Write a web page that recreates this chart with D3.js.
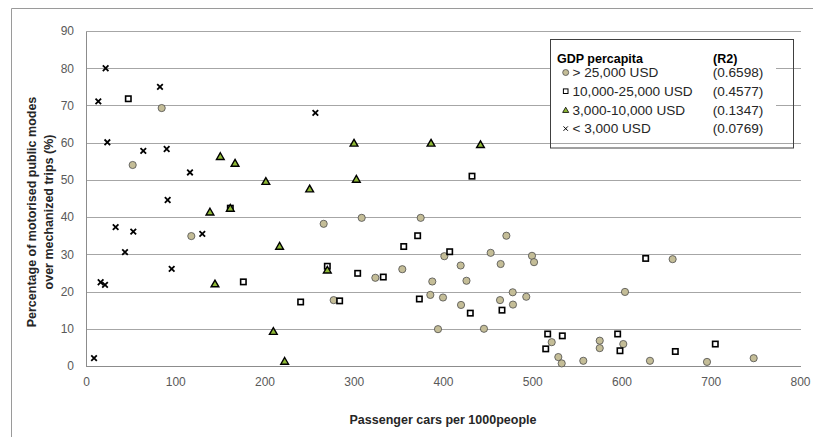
<!DOCTYPE html>
<html>
<head>
<meta charset="utf-8">
<script src="https://cdn.jsdelivr.net/npm/d3@7/dist/d3.min.js"></script>
<style>
  html, body { margin: 0; padding: 0; background: #fff; }
  svg { display: block; font-family: "Liberation Sans", Arial, sans-serif; }
</style>
</head>
<body>
<svg id="chart" width="813" height="441"></svg>
<script>
// GDP per capita groups: [passenger cars per 1000 people, % public modes]
const richPoints = [
  [84.8,69.3],[52.3,54.0],[118,34.9],[266.3,38.2],[308.9,39.8],[375,39.8],
  [401.5,29.5],[419.8,27.0],[354.4,26.0],[324.2,23.7],[277.5,17.7],[388,22.7],
  [426.3,22.9],[385.8,19.1],[400,18.4],[420.2,16.4],[394.4,9.9],[453.4,30.4],
  [471,35],[499.7,29.6],[502,27.9],[464.6,27.4],[478.1,19.8],[603.9,19.9],
  [493.3,18.6],[463.9,17.7],[478.4,16.5],[445.9,10.0],[521.8,6.4],[529.2,2.4],
  [533,0.7],[557.2,1.4],[575.6,6.8],[575.6,4.8],[602,5.9],[631.9,1.4],
  [695.8,1.1],[748.1,2.1],[657.3,28.7]
];
const upperMiddlePoints = [
  [47.4,71.8],[161.7,42.4],[176.3,22.6],[432.5,51.0],[371.6,35.0],[356,32.1],
  [407.5,30.7],[270.4,26.8],[304.4,24.9],[333.1,23.9],[240.5,17.2],[284.2,17.5],
  [373.5,18.0],[430.6,14.2],[466.1,15.0],[627.1,28.9],[517.3,8.6],[533.7,8.1],
  [515.1,4.6],[595.7,8.6],[598.3,4.1],[660.3,3.9],[705.1,5.9]
];
const lowerMiddlePoints = [
  [150.5,56.3],[167,54.5],[201.5,49.6],[138.9,41.4],[161.7,42.4],[216.9,32.2],
  [144.5,22.1],[209.9,9.3],[300.3,59.9],[386.6,59.9],[442,59.5],[250.6,47.6],
  [302.9,50.2],[270.4,25.8],[222.6,1.3]
];
const lowPoints = [
  [22,80.0],[82.9,75.0],[13.8,71.1],[23.9,60.1],[64.2,57.8],[90.4,58.3],
  [116.5,52.0],[91.5,44.6],[33.2,37.3],[53,36.1],[130.3,35.5],[43.7,30.6],
  [96,26.1],[16.4,22.5],[21.3,21.8],[9,2.1],[257,68]
];

const legendLabels = ["> 25,000 USD", "10,000-25,000 USD", "3,000-10,000 USD", "< 3,000 USD"];
const r2Values = ["(0.6598)", "(0.4577)", "(0.1347)", "(0.0769)"];
const xTicks = [0, 100, 200, 300, 400, 500, 600, 700, 800];
const yTicks = [0, 10, 20, 30, 40, 50, 60, 70, 80, 90];

const svg = d3.select("#chart");

const x = d3.scaleLinear().domain([0, 800]).range([86, 800]);
const y = d3.scaleLinear().domain([0, 90]).range([366, 31]);
const plotRight = 801;

// outer chart frame (left and top edges)
svg.append("line").attr("x1", 11.5).attr("x2", 11.5).attr("y1", 8.5).attr("y2", 437)
  .attr("stroke", "#9a9a9a");
svg.append("line").attr("x1", 11.5).attr("x2", 813).attr("y1", 8.5).attr("y2", 8.5)
  .attr("stroke", "#9a9a9a");

// horizontal gridlines
const grid = svg.append("g").attr("transform", "translate(86,0)")
  .call(d3.axisLeft(y).tickValues(yTicks.filter(v => v > 0)).tickSize(-(plotRight - 86)).tickFormat(""));
grid.select(".domain").remove();
grid.selectAll(".tick line").attr("stroke", "#a6a6a6").attr("shape-rendering", "crispEdges");

// y axis
const yAxis = svg.append("g").attr("transform", "translate(86,0)")
  .call(d3.axisLeft(y).tickValues(yTicks).tickSize(0).tickPadding(12));
yAxis.select(".domain").attr("stroke", "#8c8c8c").attr("shape-rendering", "crispEdges");
yAxis.selectAll(".tick text").attr("font-size", 12).attr("fill", "#595959")
  .attr("font-family", "Liberation Sans, Arial, sans-serif");

// x axis
const xAxis = svg.append("g").attr("transform", "translate(0,366)")
  .call(d3.axisBottom(x).tickValues(xTicks).tickSize(0).tickPadding(11));
xAxis.select(".domain").attr("stroke", "#8c8c8c").attr("shape-rendering", "crispEdges")
  .attr("d", `M86,0H${plotRight}`);
xAxis.selectAll(".tick text").attr("font-size", 12).attr("fill", "#595959")
  .attr("font-family", "Liberation Sans, Arial, sans-serif");

// axis titles
svg.append("text").attr("x", 443).attr("y", 424).attr("text-anchor", "middle")
  .attr("font-size", 12.5).attr("font-weight", "bold").attr("fill", "#262626")
  .text("Passenger cars per 1000people");
const yTitle = svg.append("text").attr("transform", "translate(0,212) rotate(-90)")
  .attr("text-anchor", "middle").attr("font-size", 12.5).attr("font-weight", "bold")
  .attr("fill", "#262626");
yTitle.append("tspan").attr("x", 0).attr("y", 36).text("Percentage of motorised public modes");
yTitle.append("tspan").attr("x", 0).attr("y", 53).text("over mechanized trips (%)");

// marker painters
const triPath = d3.symbol().type(d3.symbolTriangle);
function drawCircle(g, cx, cy, r) {
  g.append("circle").attr("cx", cx).attr("cy", cy).attr("r", r)
    .attr("fill", "#c4bd97").attr("stroke", "#4d4d4d").attr("stroke-width", 0.8);
}
function drawSquare(g, cx, cy, s, sw) {
  g.append("rect").attr("x", cx - s / 2).attr("y", cy - s / 2).attr("width", s).attr("height", s)
    .attr("fill", "#fff").attr("stroke", "#000").attr("stroke-width", sw);
}
function drawTriangle(g, cx, cy, size, sw) {
  g.append("path").attr("d", triPath.size(size)()).attr("transform", `translate(${cx},${cy + 0.8})`)
    .attr("fill", "#8fb936").attr("stroke", "#000").attr("stroke-width", sw);
}
function drawCross(g, cx, cy, h, sw) {
  g.append("path").attr("d", `M${cx - h},${cy - h}L${cx + h},${cy + h}M${cx - h},${cy + h}L${cx + h},${cy - h}`)
    .attr("stroke", "#000").attr("stroke-width", sw).attr("fill", "none");
}

const marks = svg.append("g");
richPoints.forEach(d => drawCircle(marks, x(d[0]), y(d[1]), 3.6));
upperMiddlePoints.forEach(d => drawSquare(marks, x(d[0]), y(d[1]), 5.4, 1.6));
lowerMiddlePoints.forEach(d => drawTriangle(marks, x(d[0]), y(d[1]), 26, 1.4));
lowPoints.forEach(d => drawCross(marks, x(d[0]), y(d[1]), 2.8, 1.8));

// legend
const lg = svg.append("g");
lg.append("rect").attr("x", 551).attr("y", 41).attr("width", 225).attr("height", 97).attr("fill", "#fff");
lg.append("rect").attr("x", 550.5).attr("y", 39.5).attr("width", 243).attr("height", 108.5)
  .attr("fill", "none").attr("stroke", "#404040").attr("stroke-width", 1);
lg.append("text").attr("x", 557).attr("y", 63).attr("font-size", 12.5).attr("font-weight", "bold")
  .attr("fill", "#000").text("GDP percapita");
lg.append("text").attr("x", 713).attr("y", 63).attr("font-size", 12.5).attr("font-weight", "bold")
  .attr("fill", "#000").text("(R2)");
const rowPainters = [
  (cy) => drawCircle(lg, 565.7, cy, 3),
  (cy) => drawSquare(lg, 565.7, cy, 4.6, 1),
  (cy) => drawTriangle(lg, 565.7, cy, 16, 0.8),
  (cy) => drawCross(lg, 565.7, cy, 2.2, 1)
];
legendLabels.forEach((label, i) => {
  const cy = 72.5 + i * 18.7;
  rowPainters[i](cy);
  lg.append("text").attr("x", 572.5).attr("y", cy + 4.7).attr("font-size", 13.6)
    .attr("fill", "#262626").text(label);
  lg.append("text").attr("x", 712.7).attr("y", cy + 4.7).attr("font-size", 13.6)
    .attr("fill", "#262626").text(r2Values[i]);
});
</script>
</body>
</html>
